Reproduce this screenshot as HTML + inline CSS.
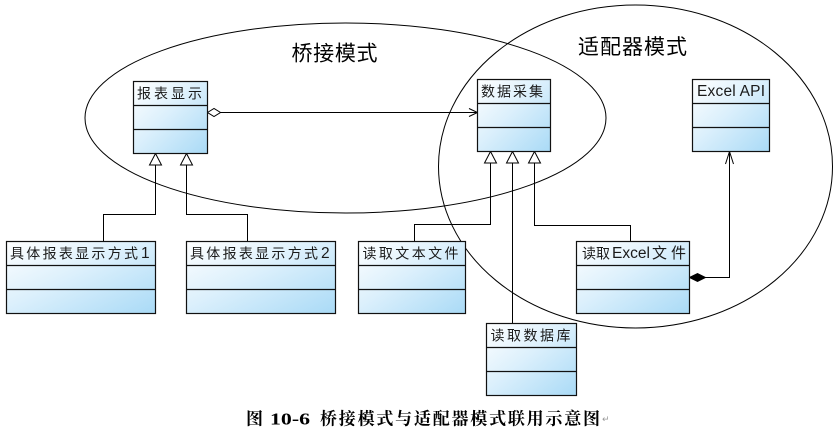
<!DOCTYPE html>
<html>
<head>
<meta charset="utf-8">
<style>
  html,body{margin:0;padding:0;background:#fff;}
  svg{display:block;}
  .lbl{font-family:"Liberation Sans","Noto Sans CJK SC",sans-serif;font-size:14px;fill:#1a1a1a;}
  .lat{font-family:"Liberation Sans",sans-serif;font-size:15.5px;fill:#1a1a1a;}
  .ttl{font-family:"Liberation Sans","Noto Sans CJK SC",sans-serif;font-size:21px;fill:#000;}
  .cap{font-family:"Liberation Serif","Noto Serif CJK SC",serif;font-size:17px;font-weight:bold;fill:#000;}
</style>
</head>
<body>
<svg width="836" height="432" viewBox="0 0 836 432" xmlns="http://www.w3.org/2000/svg">
  <defs>
    <linearGradient id="g" x1="0" y1="0" x2="1" y2="1">
      <stop offset="0" stop-color="#ffffff"/>
      <stop offset="0.45" stop-color="#dcf0fc"/>
      <stop offset="1" stop-color="#a9daf6"/>
    </linearGradient>
  </defs>

  <!-- ellipses -->
  <ellipse cx="345.5" cy="118" rx="260.5" ry="95" fill="none" stroke="#000" stroke-width="1"/>
  <ellipse cx="635.5" cy="166.5" rx="197" ry="161.5" fill="none" stroke="#000" stroke-width="1"/>

  <!-- titles -->
  <text class="ttl" x="291.5" y="54" dominant-baseline="central" textLength="86" lengthAdjust="spacing">桥接模式</text>
  <text class="ttl" x="578" y="47.5" dominant-baseline="central" textLength="109" lengthAdjust="spacing">适配器模式</text>

  <!-- connectors -->
  <g fill="none" stroke="#000" stroke-width="1">
    <line x1="220.5" y1="112.5" x2="477.5" y2="112.5"/>
    <polyline points="469,108.5 477.5,112.5 469,116.5"/>
    <polyline points="155.5,165 155.5,214.5 103.5,214.5 103.5,241.5"/>
    <polyline points="186.5,165 186.5,214.5 247.5,214.5 247.5,241.5"/>
    <polyline points="490.5,163 490.5,224.5 414.5,224.5 414.5,241.5"/>
    <line x1="512.5" y1="163" x2="512.5" y2="323.5"/>
    <polyline points="534.5,163 534.5,225.5 630.5,225.5 630.5,241.5"/>
    <polyline points="705.5,277.5 729.5,277.5 729.5,151.5"/>
    <polyline points="725.5,164 729.5,151.5 733.5,164"/>
  </g>

  <!-- triangles -->
  <g fill="#fff" stroke="#000" stroke-width="1">
    <polygon points="155.5,153.5 149.5,165 161.5,165"/>
    <polygon points="186.5,153.5 180.5,165 192.5,165"/>
    <polygon points="490.5,151.5 484.5,163 496.5,163"/>
    <polygon points="512.5,151.5 506.5,163 518.5,163"/>
    <polygon points="534.5,151.5 528.5,163 540.5,163"/>
    <polygon points="207.5,112.5 214,108.5 220.5,112.5 214,116.5"/>
  </g>
  <polygon points="689.5,277.5 697.5,273.5 705.5,277.5 697.5,281.5" fill="#000" stroke="#000" stroke-width="1"/>

  <!-- boxes -->
  <g stroke="#111" stroke-width="1.2">
    <rect x="133.5" y="81.5" width="74" height="72" fill="url(#g)"/>
    <line x1="133.5" y1="105.5" x2="207.5" y2="105.5"/>
    <line x1="133.5" y1="129.5" x2="207.5" y2="129.5"/>
    <rect x="477.5" y="79.5" width="73" height="72" fill="url(#g)"/>
    <line x1="477.5" y1="103.5" x2="550.5" y2="103.5"/>
    <line x1="477.5" y1="127.5" x2="550.5" y2="127.5"/>
    <rect x="692.5" y="79.5" width="77" height="72" fill="url(#g)"/>
    <line x1="692.5" y1="103.5" x2="769.5" y2="103.5"/>
    <line x1="692.5" y1="127.5" x2="769.5" y2="127.5"/>
    <rect x="6.5" y="241.5" width="149" height="72" fill="url(#g)"/>
    <line x1="6.5" y1="265.5" x2="155.5" y2="265.5"/>
    <line x1="6.5" y1="289.5" x2="155.5" y2="289.5"/>
    <rect x="186.5" y="241.5" width="149" height="72" fill="url(#g)"/>
    <line x1="186.5" y1="265.5" x2="335.5" y2="265.5"/>
    <line x1="186.5" y1="289.5" x2="335.5" y2="289.5"/>
    <rect x="358.5" y="241.5" width="107" height="72" fill="url(#g)"/>
    <line x1="358.5" y1="265.5" x2="465.5" y2="265.5"/>
    <line x1="358.5" y1="289.5" x2="465.5" y2="289.5"/>
    <rect x="576.5" y="241.5" width="113" height="72" fill="url(#g)"/>
    <line x1="576.5" y1="265.5" x2="689.5" y2="265.5"/>
    <line x1="576.5" y1="289.5" x2="689.5" y2="289.5"/>
    <rect x="486.5" y="323.5" width="90" height="72" fill="url(#g)"/>
    <line x1="486.5" y1="347.5" x2="576.5" y2="347.5"/>
    <line x1="486.5" y1="371.5" x2="576.5" y2="371.5"/>
  </g>

  <!-- box labels -->
  <text class="lbl" x="137" y="93.5" dominant-baseline="central" textLength="65" lengthAdjust="spacing">报表显示</text>
  <text class="lbl" x="481" y="91.5" dominant-baseline="central" textLength="62" lengthAdjust="spacing">数据采集</text>
  <text class="lat" x="697" y="91.5" dominant-baseline="central" textLength="68" lengthAdjust="spacing">Excel API</text>

  <text class="lbl" x="10" y="253.5" dominant-baseline="central" textLength="128" lengthAdjust="spacing">具体报表显示方式</text>
  <text class="lat" x="141" y="253.5" dominant-baseline="central">1</text>

  <text class="lbl" x="190" y="253.5" dominant-baseline="central" textLength="128" lengthAdjust="spacing">具体报表显示方式</text>
  <text class="lat" x="321" y="253.5" dominant-baseline="central">2</text>

  <text class="lbl" x="362.5" y="253.5" dominant-baseline="central" textLength="96" lengthAdjust="spacing">读取文本文件</text>

  <text class="lbl" x="582" y="253.5" dominant-baseline="central" textLength="28" lengthAdjust="spacing">读取</text>
  <text class="lat" x="612" y="253.5" dominant-baseline="central" textLength="38" lengthAdjust="spacingAndGlyphs">Excel</text>
  <text class="lbl" x="652" y="253.5" dominant-baseline="central" style="font-size:15px" textLength="34" lengthAdjust="spacing">文件</text>

  <text class="lbl" x="490.5" y="335.5" dominant-baseline="central" textLength="80" lengthAdjust="spacing">读取数据库</text>

  <!-- caption -->
  <text class="cap" x="246" y="419" dominant-baseline="central">图</text>
  <text class="cap" x="270" y="419" dominant-baseline="central" textLength="40" lengthAdjust="spacingAndGlyphs">10-6</text>
  <text class="cap" x="320" y="419" dominant-baseline="central" textLength="280" lengthAdjust="spacing">桥接模式与适配器模式联用示意图</text>
  <text x="602" y="422" font-family="'DejaVu Sans',sans-serif" font-size="9" fill="#999">↵</text>
</svg>
</body>
</html>
